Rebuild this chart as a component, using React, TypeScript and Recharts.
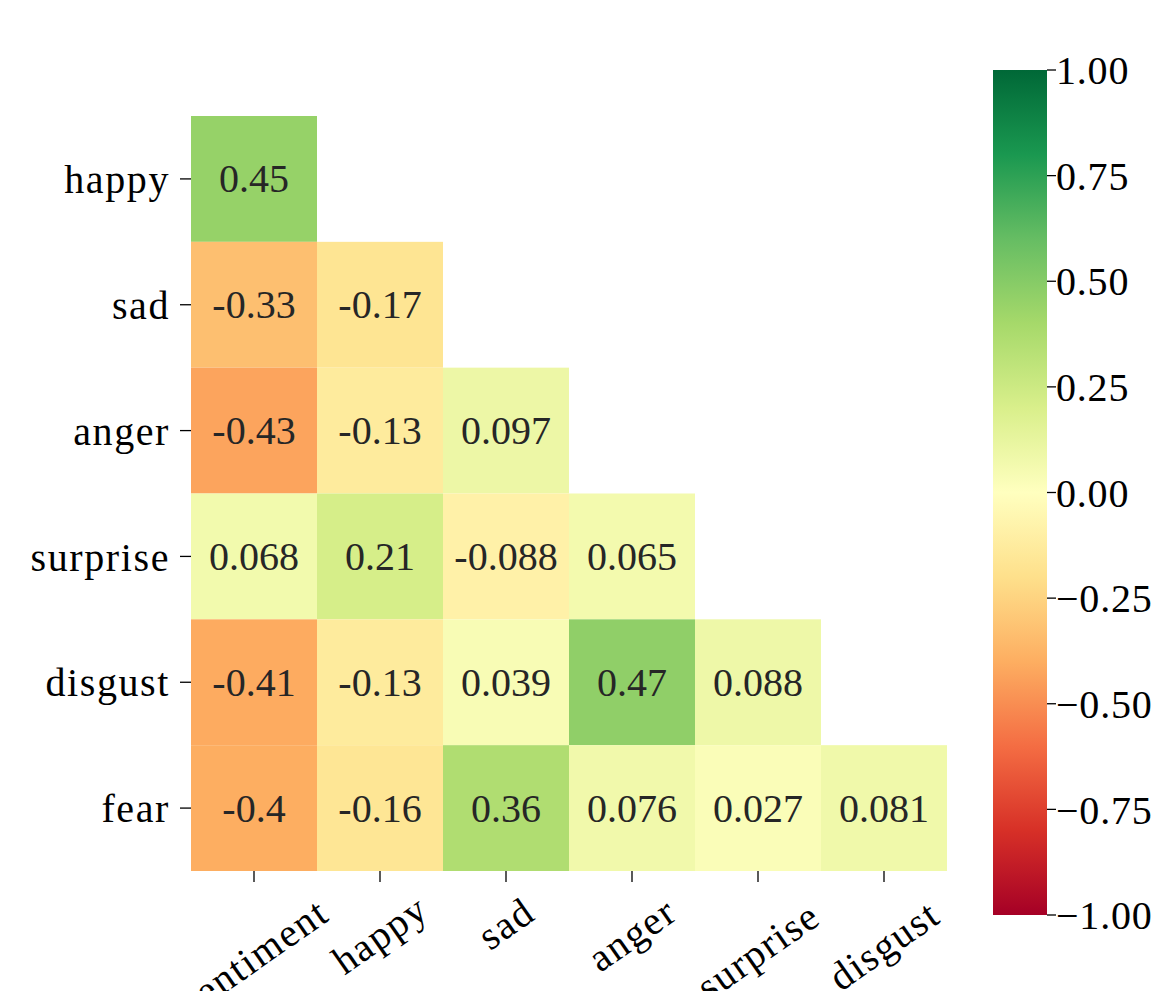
import React from "react";
import {
  ScatterChart,
  Scatter,
  XAxis,
  YAxis,
  BarChart,
  Bar,
} from "recharts";

const rowNames = ["happy", "sad", "anger", "surprise", "disgust", "fear"];
const colNames = ["sentiment", "happy", "sad", "anger", "surprise", "disgust"];

const happyRow = [0.45];
const sadRow = [-0.33, -0.17];
const angerRow = [-0.43, -0.13, 0.097];
const surpriseRow = [0.068, 0.21, -0.088, 0.065];
const disgustRow = [-0.41, -0.13, 0.039, 0.47, 0.088];
const fearRow = [-0.4, -0.16, 0.36, 0.076, 0.027, 0.081];

const rows = [happyRow, sadRow, angerRow, surpriseRow, disgustRow, fearRow];

const cbTicks = [-1, -0.75, -0.5, -0.25, 0, 0.25, 0.5, 0.75, 1];

// matplotlib RdYlGn
const RDYLGN = [
  "#a50026", "#d73027", "#f46d43", "#fdae61", "#fee08b", "#ffffbf",
  "#d9ef8b", "#a6d96a", "#66bd63", "#1a9850", "#006837",
];

const FONT = "'Liberation Serif', 'DejaVu Serif', serif";
const FS = 40;

const W = 1174;
const H = 991;
const PLOT = { left: 191, top: 116, right: 947, bottom: 871 };
const CELL_W = (PLOT.right - PLOT.left) / 6;
const CELL_H = (PLOT.bottom - PLOT.top) / 6;

function hexToRgb(h: string) {
  const n = parseInt(h.slice(1), 16);
  return [(n >> 16) & 255, (n >> 8) & 255, n & 255];
}

function colorFor(v: number) {
  const t = Math.max(0, Math.min(1, (v + 1) / 2)) * 10;
  const i = Math.min(9, Math.floor(t));
  const f = t - i;
  const a = hexToRgb(RDYLGN[i]);
  const b = hexToRgb(RDYLGN[i + 1]);
  const c = a.map((x, k) => Math.round(x + (b[k] - x) * f));
  return `rgb(${c[0]},${c[1]},${c[2]})`;
}

const fmtCell = (v: number) => String(Number(v.toPrecision(2)));
const fmtBar = (v: number) => {
  const s = Math.abs(v).toFixed(2);
  return v < 0 ? "\u2212" + s : s;
};

const cells = rows.flatMap((r, i) =>
  r.map((v, j) => ({ x: j + 0.5, y: i + 0.5, v }))
);

const centers = [0.5, 1.5, 2.5, 3.5, 4.5, 5.5];

function CellShape(props: any) {
  const { cx, cy, payload } = props;
  return (
    <g>
      <rect
        x={cx - CELL_W / 2}
        y={cy - CELL_H / 2}
        width={CELL_W}
        height={CELL_H}
        fill={colorFor(payload.v)}
      />
      <text
        x={cx}
        y={cy}
        textAnchor="middle"
        dominantBaseline="central"
        fontFamily={FONT}
        fontSize={FS}
        fill="#262626"
      >
        {fmtCell(payload.v)}
      </text>
    </g>
  );
}

function XTick(props: any) {
  const { x, payload } = props;
  const label = colNames[Math.floor(payload.value)];
  const w = label.length * FS * 0.48;
  const ang = (35 * Math.PI) / 180;
  const off = (w * Math.sin(ang) + FS * 0.85 * Math.cos(ang)) / 2;
  return (
    <g transform={`translate(${x},${PLOT.bottom + 22 + off})`}>
      <text
        transform="rotate(-35)"
        textAnchor="middle"
        dominantBaseline="central"
        fontFamily={FONT}
        fontSize={FS}
        letterSpacing={1.6}
        fill="#000"
      >
        {label}
      </text>
    </g>
  );
}

export default function App() {
  return (
    <div style={{ position: "absolute", left: 0, top: 0, width: W, height: H, background: "#fff" }}>
      <div style={{ position: "absolute", left: 0, top: 0 }}>
        <ScatterChart
          width={W}
          height={H}
          margin={{ left: 11, top: PLOT.top, right: W - PLOT.right, bottom: 20 }}
        >
          <XAxis
            type="number"
            dataKey="x"
            domain={[0, 6]}
            ticks={centers}
            height={H - PLOT.bottom - 20}
            axisLine={false}
            tickLine={{ stroke: "#000", strokeWidth: 1.3 }}
            tickSize={11}
            tick={<XTick />}
            interval={0}
          />
          <YAxis
            type="number"
            dataKey="y"
            domain={[0, 6]}
            reversed
            ticks={centers}
            width={PLOT.left - 11}
            axisLine={false}
            tickLine={{ stroke: "#000", strokeWidth: 1.3 }}
            tickSize={11}
            tickMargin={10}
            interval={0}
            tickFormatter={(v: number) => rowNames[Math.floor(v)]}
            tick={{ fontFamily: FONT, fontSize: FS, fill: "#000", letterSpacing: 1.6 }}
          />
          <Scatter data={cells} shape={<CellShape />} isAnimationActive={false} />
        </ScatterChart>
      </div>
      <div style={{ position: "absolute", left: 0, top: 0 }}>
        <BarChart
          width={W}
          height={H}
          data={[{ name: "cb", range: [-1, 1] }]}
          margin={{ left: 993, top: 70, right: W - 1047 - 125, bottom: H - 915 }}
          barCategoryGap={0}
        >
          <defs>
            <linearGradient id="cbGrad" x1="0" y1="0" x2="0" y2="1">
              {RDYLGN.slice()
                .reverse()
                .map((c, k) => (
                  <stop key={k} offset={`${k * 10}%`} stopColor={c} />
                ))}
            </linearGradient>
          </defs>
          <XAxis dataKey="name" hide />
          <YAxis
            orientation="right"
            type="number"
            domain={[-1, 1]}
            ticks={cbTicks}
            interval={0}
            width={125}
            axisLine={false}
            tickLine={{ stroke: "#000", strokeWidth: 1.3 }}
            tickSize={9}
            tickMargin={0}
            tickFormatter={fmtBar}
            tick={{ fontFamily: FONT, fontSize: FS, fill: "#000", textAnchor: "start", letterSpacing: 0.8 }}
          />
          <Bar dataKey="range" fill="url(#cbGrad)" isAnimationActive={false} />
        </BarChart>
      </div>
    </div>
  );
}
